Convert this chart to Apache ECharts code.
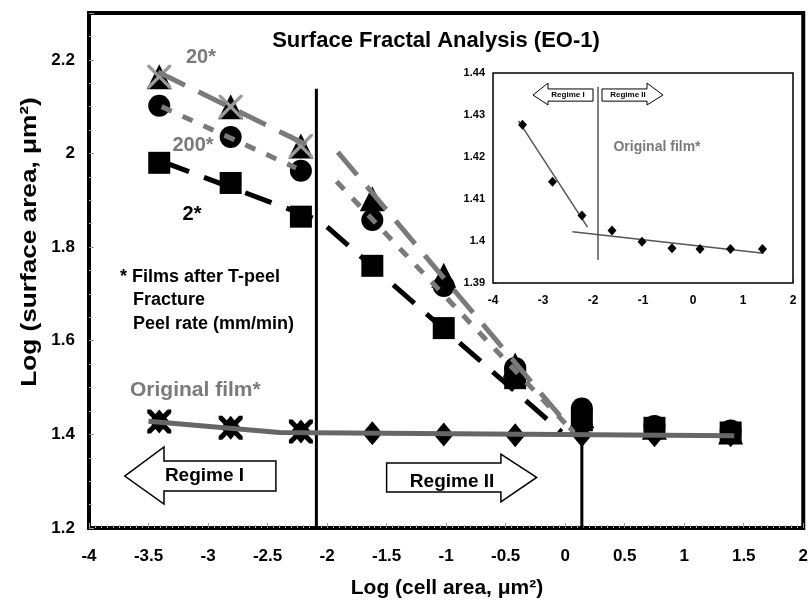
<!DOCTYPE html>
<html>
<head>
<meta charset="utf-8">
<script src="https://cdn.jsdelivr.net/npm/echarts@6/dist/echarts.min.js"></script>
<style>
  html, body { margin: 0; padding: 0; background: #fff; }
  #chart { width: 811px; height: 604px; }
</style>
</head>
<body>
<div id="chart"></div>
<script>
// log(cell area) for every measured point
const logCell = [-3.41, -2.81, -2.22, -1.62, -1.02, -0.42, 0.14, 0.75, 1.39];

// log(surface area) per peel rate
const peel20 = [2.164, 2.100, 2.016, 1.903, 1.740, 1.548, 1.440, 1.415, 1.405]; // triangles
const peel200 = [2.102, 2.035, 1.963, 1.858, 1.717, 1.542, 1.455, 1.418, 1.408]; // circles
const peel2 = [1.980, 1.937, 1.865, 1.760, 1.627, 1.520, 1.430, 1.414, 1.404]; // squares
const original = [1.4277, 1.4141, 1.4061, 1.4025, 1.3998, 1.3983, 1.3981, 1.3981, 1.3981]; // diamonds
const regimeICount = 3; // points in regime I (marked with an extra cross)

// fitted lines (end points)
const fit20 = [[[-3.42, 2.174], [-2.12, 2.012]], [[-1.91, 2.003], [0.07, 1.405]]];
const fit200 = [[[-3.39, 2.100], [-2.26, 1.969]], [[-1.92, 1.940], [0.05, 1.410]]];
const fit2 = [[[-3.38, 1.982], [-2.12, 1.862]], [[-2.00, 1.843], [-0.03, 1.405]]];
const fitOriginal = [[-3.50, 1.428], [-2.40, 1.404], [1.42, 1.397]];
const boundaries = [[[-2.09, 1.2], [-2.09, 2.138]], [[0.14, 1.2], [0.14, 1.399]]];

// inset: original film only
const insetFitI = [[-3.49, 1.4286], [-2.11, 1.4033]];
const insetFitII = [[-2.41, 1.4022], [1.41, 1.3971]];
const insetBoundary = [[-1.9, 1.3955], [-1.9, 1.4367]];

// regime arrows: tipX, headBaseX, endX, labelX, headTop, bodyTop, bodyBottom, headBottom
const regimeLabels = ['Regime I', 'Regime II'];
const mainArrows = [
  [-3.70, -3.37, -2.43, -3.03, 1.373, 1.343, 1.279, 1.251],
  [-0.24, -0.54, -1.50, -0.95, 1.358, 1.339, 1.277, 1.256]
];
const insetArrows = [
  [-3.20, -2.90, -2.00, -2.50, 1.4376, 1.4362, 1.4333, 1.4324],
  [-0.60, -0.92, -1.82, -1.30, 1.4376, 1.4362, 1.4333, 1.4324]
];

// axes
const xMin = -4, xMax = 2, xStep = 0.5;
const yMin = 1.2, yMax = 2.3, yStep = 0.2;
const insetXMin = -4, insetXMax = 2, insetXStep = 1;
const insetYMin = 1.39, insetYMax = 1.44, insetYStep = 0.01;

const FONT = '"Liberation Sans", Arial, sans-serif';
const GREY = '#7a7a7a';

const pts = (ys) => logCell.map((x, i) => [x, ys[i]]);
const crossThin = 'path://M0,0L2,0L10,8L18,0L20,0L20,2L12,10L20,18L20,20L18,20L10,12L2,20L0,20L0,18L8,10L0,2Z';
const crossBold = 'path://M0,0L3,0L10,7L17,0L20,0L20,3L13,10L20,17L20,20L17,20L10,13L3,20L0,20L0,17L7,10L0,3Z';
const solid = { color: '#000', opacity: 1 };

function arrowRenderer(fontSize, lineWidth, dy) {
  return function (params, api) {
    const v = (i) => api.value(i);
    const mid = (v(5) + v(6)) / 2;
    const c = (x, y) => api.coord([x, y]);
    const poly = [
      c(v(0), mid), c(v(1), v(4)), c(v(1), v(5)), c(v(2), v(5)),
      c(v(2), v(6)), c(v(1), v(6)), c(v(1), v(7))
    ];
    const lp = c(v(3), mid);
    return {
      type: 'group',
      children: [
        { type: 'polygon', shape: { points: poly },
          style: { fill: '#fff', stroke: '#000', lineWidth: lineWidth } },
        { type: 'text', x: lp[0], y: lp[1] + dy * params.dataIndex,
          style: { text: regimeLabels[params.dataIndex], fill: '#000',
            font: 'bold ' + fontSize + 'px ' + FONT, align: 'center', verticalAlign: 'middle' } }
      ]
    };
  };
}

function lineSeries(data, color, width, type, axis) {
  return {
    type: 'line', data: data, xAxisIndex: axis, yAxisIndex: axis,
    symbol: 'none', silent: true, z: 4,
    lineStyle: { color: color, width: width, type: type, cap: 'butt', opacity: 1 }
  };
}

const series = [
  // main chart markers
  { type: 'scatter', data: pts(peel20), symbol: 'triangle', symbolSize: 25, itemStyle: solid, z: 2 },
  { type: 'scatter', data: pts(peel200), symbol: 'circle', symbolSize: 22, itemStyle: solid, z: 2 },
  { type: 'scatter', data: pts(peel2), symbol: 'rect', symbolSize: 22, itemStyle: solid, z: 2 },
  { type: 'scatter', data: pts(original), symbol: 'diamond', symbolSize: [20, 24], itemStyle: solid, z: 2 },
  { type: 'scatter', data: pts(original).slice(0, regimeICount), symbol: crossBold, symbolSize: 24,
    itemStyle: solid, z: 3 },
  { type: 'scatter', data: pts(peel20).slice(0, regimeICount), symbol: crossThin, symbolSize: 24,
    itemStyle: { color: '#9a9a9a', opacity: 1 }, z: 3 },
  // boundaries between regimes
  lineSeries(boundaries[0], '#000', 3, 'solid', 0),
  lineSeries(boundaries[1], '#000', 3, 'solid', 0),
  // fits
  lineSeries(fit20[0], GREY, 5, [30, 15], 0),
  lineSeries(fit20[1], GREY, 5, [30, 15], 0),
  lineSeries(fit200[0], GREY, 5, [11, 12], 0),
  lineSeries(fit200[1], GREY, 5, [11, 12], 0),
  lineSeries(fit2[0], '#000', 5, [28, 16], 0),
  lineSeries(fit2[1], '#000', 5, [28, 16], 0),
  lineSeries(fitOriginal, '#666', 5, 'solid', 0),
  { type: 'custom', data: mainArrows, renderItem: arrowRenderer(19, 1.5, 4),
    encode: { x: [0, 1, 2], y: [4, 7] }, clip: false, silent: true, z: 5 },
  // inset
  lineSeries(insetBoundary, '#000', 1, 'solid', 1),
  lineSeries(insetFitI, '#555', 1.5, 'solid', 1),
  lineSeries(insetFitII, '#555', 1.5, 'solid', 1),
  { type: 'scatter', xAxisIndex: 1, yAxisIndex: 1, data: pts(original), symbol: 'diamond',
    symbolSize: [9, 10], itemStyle: solid, z: 5 },
  { type: 'custom', xAxisIndex: 1, yAxisIndex: 1, data: insetArrows, renderItem: arrowRenderer(8, 1, 0),
    encode: { x: [0, 1, 2], y: [4, 7] }, clip: false, silent: true, z: 5 }
];

const tickFont = { fontFamily: FONT, fontWeight: 'bold', color: '#000' };

const option = {
  animation: false,
  backgroundColor: '#fff',
  grid: [
    { left: 89, top: 13, width: 716, height: 515, show: true,
      borderColor: '#000', borderWidth: 4, backgroundColor: 'transparent' },
    { left: 493, top: 73, width: 300, height: 210, show: true,
      borderColor: '#000', borderWidth: 1.5, backgroundColor: '#fff', z: 1 }
  ],
  xAxis: [
    { type: 'value', gridIndex: 0, min: xMin, max: xMax, interval: xStep,
      axisLine: { show: false, onZero: false }, splitLine: { show: false },
      axisTick: { inside: true, length: 5, lineStyle: { color: '#999' } },
      minorTick: { show: true, splitNumber: 10, length: 3, lineStyle: { color: '#aaa' } },
      axisLabel: Object.assign({ fontSize: 17, margin: 20 }, tickFont) },
    { type: 'value', gridIndex: 1, min: insetXMin, max: insetXMax, interval: insetXStep,
      axisLine: { show: false, onZero: false }, splitLine: { show: false },
      axisTick: { inside: true, length: 4, lineStyle: { color: '#888' } },
      minorTick: { show: true, splitNumber: 10, length: 3, lineStyle: { color: '#888' } },
      axisLabel: Object.assign({ fontSize: 12, margin: 12 }, tickFont) }
  ],
  yAxis: [
    { type: 'value', gridIndex: 0, min: yMin, max: yMax, interval: yStep,
      axisLine: { show: false, onZero: false }, splitLine: { show: false },
      axisTick: { inside: true, length: 5, lineStyle: { color: '#999' } },
      minorTick: { show: true, splitNumber: 4, length: 3, lineStyle: { color: '#aaa' } },
      axisLabel: Object.assign({ fontSize: 17, margin: 14,
        formatter: (v) => (v > 2.25 ? '' : String(+v.toFixed(1))) }, tickFont) },
    { type: 'value', gridIndex: 1, min: insetYMin, max: insetYMax, interval: insetYStep,
      axisLine: { show: false, onZero: false }, splitLine: { show: false },
      axisTick: { inside: true, length: 4, lineStyle: { color: '#888' } },
      minorTick: { show: true, splitNumber: 5, length: 3, lineStyle: { color: '#888' } },
      axisLabel: Object.assign({ fontSize: 11, margin: 8,
        formatter: (v) => String(+v.toFixed(2)) }, tickFont) }
  ],
  graphic: [
    { type: 'text', x: 436, y: 41, z: 10,
      style: { text: 'Surface Fractal Analysis (EO-1)', fill: '#000', font: 'bold 22px ' + FONT,
        align: 'center', verticalAlign: 'middle' } },
    { type: 'text', x: 201, y: 57, z: 10,
      style: { text: '20*', fill: GREY, font: 'bold 20px ' + FONT, align: 'center', verticalAlign: 'middle' } },
    { type: 'text', x: 193, y: 145, z: 10,
      style: { text: '200*', fill: GREY, font: 'bold 20px ' + FONT, align: 'center', verticalAlign: 'middle' } },
    { type: 'text', x: 192, y: 214, z: 10,
      style: { text: '2*', fill: '#000', font: 'bold 20px ' + FONT, align: 'center', verticalAlign: 'middle' } },
    { type: 'text', x: 120, y: 277, z: 10,
      style: { text: '* Films after T-peel', fill: '#000', font: 'bold 18px ' + FONT, verticalAlign: 'middle' } },
    { type: 'text', x: 133, y: 300, z: 10,
      style: { text: 'Fracture', fill: '#000', font: 'bold 18px ' + FONT, verticalAlign: 'middle' } },
    { type: 'text', x: 133, y: 324, z: 10,
      style: { text: 'Peel rate (mm/min)', fill: '#000', font: 'bold 18px ' + FONT, verticalAlign: 'middle' } },
    { type: 'text', x: 130, y: 390, z: 10,
      style: { text: 'Original film*', fill: GREY, font: 'bold 21px ' + FONT, verticalAlign: 'middle' } },
    { type: 'text', x: 657, y: 147, z: 10,
      style: { text: 'Original film*', fill: GREY, font: 'bold 14px ' + FONT, align: 'center', verticalAlign: 'middle' } },
    { type: 'text', x: 447, y: 588, z: 10, scaleX: 1.05,
      style: { text: 'Log (cell area, \u03bcm\u00b2)', fill: '#000', font: 'bold 20px ' + FONT,
        align: 'center', verticalAlign: 'middle' } },
    { type: 'text', x: 30, y: 242, rotation: Math.PI / 2, scaleX: 1.19, z: 10,
      style: { text: 'Log (surface area, \u03bcm\u00b2)', fill: '#000', font: 'bold 22px ' + FONT,
        align: 'center', verticalAlign: 'middle' } }
  ],
  series: series
};

const chart = echarts.init(document.getElementById('chart'), null, { renderer: 'canvas' });
chart.setOption(option);
</script>
</body>
</html>
